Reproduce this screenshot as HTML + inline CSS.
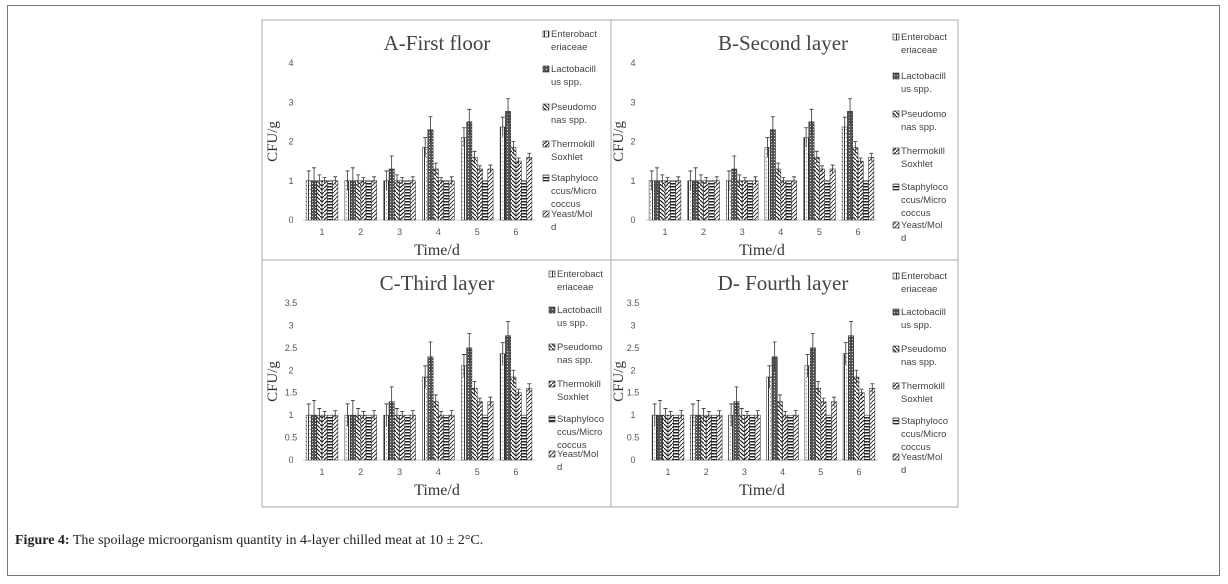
<!DOCTYPE html>
<html><head><meta charset="utf-8"><style>
body{margin:0;background:#fff;width:1228px;height:584px;overflow:hidden;font-family:"Liberation Serif",serif}
#frame{position:absolute;left:7px;top:5px;width:1213px;height:571px;border:1px solid #777;box-sizing:border-box}
#cap{position:absolute;left:15px;top:533px;font-size:14px;color:#222}
</style></head><body>
<div id="frame"></div>
<svg id="fig" width="1228" height="584" style="position:absolute;left:0;top:0">
<defs>
<pattern id="p0" width="4" height="4" patternUnits="userSpaceOnUse"><rect width="4" height="4" fill="#fff"/><rect x="0" width="1" height="4" fill="#333"/><rect x="2" y="1" width="1" height="1" fill="#777"/></pattern>
<pattern id="p1" width="3" height="3" patternUnits="userSpaceOnUse"><rect width="3" height="3" fill="#555"/><rect width="1" height="1" fill="#ddd"/></pattern>
<pattern id="p2" width="4" height="4" patternUnits="userSpaceOnUse"><rect width="4" height="4" fill="#fff"/><path d="M0,0L4,4" stroke="#222" stroke-width="1.2"/></pattern>
<pattern id="p3" width="4" height="4" patternUnits="userSpaceOnUse"><rect width="4" height="4" fill="#fff"/><path d="M0,4L4,0" stroke="#222" stroke-width="1.2"/></pattern>
<pattern id="p4" width="4" height="3" patternUnits="userSpaceOnUse"><rect width="4" height="3" fill="#fff"/><rect y="0" width="4" height="1.5" fill="#222"/></pattern>
<pattern id="p5" width="4" height="4" patternUnits="userSpaceOnUse"><rect width="4" height="4" fill="#fff"/><path d="M0,2L2,0M2,4L4,2" stroke="#333"/></pattern>
</defs>
<g id="panels"></g>
<rect x="262" y="20" width="696" height="487" fill="none" stroke="#aaa"/>
<line x1="611" y1="20" x2="611" y2="507" stroke="#aaa"/>
<line x1="262" y1="260" x2="958" y2="260" stroke="#aaa"/>
</svg>
<div id="cap"><b>Figure 4:</b> The spoilage microorganism quantity in 4-layer chilled meat at 10 ± 2°C.</div>
<script>
const days = ["1","2","3","4","5","6"];
const seriesNames = [["Enterobact","eriaceae"],["Lactobacill","us spp."],["Pseudomo","nas spp."],["Thermokill","Soxhlet"],["Staphyloco","ccus/Micro","coccus"],["Yeast/Mol","d"]];
const enterobacteriaceae = [1,1,1,1.85,2.1,2.37];
const lactobacillus = [1,1,1.3,2.3,2.5,2.77];
const pseudomonas = [1,1,1,1.3,1.6,1.85];
const thermokill = [1,1,1,1,1.3,1.5];
const staphylococcus = [1,1,1,1,1,1];
const yeastMold = [1,1,1,1,1.3,1.6];
const errEntero = [0.25,0.25,0.25,0.25,0.25,0.25];
const errLacto = [0.33,0.33,0.33,0.33,0.32,0.32];
const errPseudo = [0.15,0.15,0.15,0.15,0.15,0.15];
const errThermo = [0.08,0.08,0.08,0.08,0.08,0.08];
const errStaph = [0,0,0,0,0,0];
const errYeast = [0.1,0.1,0.1,0.1,0.1,0.1];
const ticksAB = ["0","1","2","3","4"];
const ticksCD = ["0","0.5","1","1.5","2","2.5","3","3.5"];
const titles = ["A-First floor","B-Second layer","C-Third layer","D- Fourth layer"];

const vals=[enterobacteriaceae,lactobacillus,pseudomonas,thermokill,staphylococcus,yeastMold];
const errs=[errEntero,errLacto,errPseudo,errThermo,errStaph,errYeast];
const NS="http://www.w3.org/2000/svg";
const root=document.getElementById('panels');
function mk(tag,at,parent,txt){const e=document.createElementNS(NS,tag);for(const k in at)e.setAttribute(k,at[k]);if(txt!==undefined)e.textContent=txt;(parent||root).appendChild(e);return e;}
const cfg=[
 {ox:262,oy:20,ticks:ticksAB,max:4,y0:220,ytop:63,x1:322,x6:516,tx:291,ax:272,title:437,lx:543,ly:[37,72,110,147,181,217],tl:437},
 {ox:611,oy:20,ticks:ticksAB,max:4,y0:220,ytop:63,x1:665,x6:858,tx:633,ax:618,title:783,lx:893,ly:[40,79,117,154,190,228],tl:762},
 {ox:262,oy:260,ticks:ticksCD,max:3.5,y0:460,ytop:303,x1:322,x6:516,tx:291,ax:272,title:437,lx:549,ly:[277,313,350,387,422,457],tl:437},
 {ox:611,oy:260,ticks:ticksCD,max:3.5,y0:460,ytop:303,x1:668,x6:859,tx:633,ax:618,title:783,lx:893,ly:[279,315,352,389,424,460],tl:762}
];
cfg.forEach((c,pi)=>{
 const g=mk('g',{});
 
 
 const y=v=>c.y0-(v/c.max)*(c.y0-c.ytop);
 const step=(c.x6-c.x1)/(days.length-1);
 const x=i=>c.x1+i*step;
 const t=mk('text',{x:c.title,y:c.oy+30,'font-size':21,'text-anchor':'middle',fill:'#444'},g,titles[pi]);
 
 
 c.ticks.forEach(s=>{const tk=mk('text',{x:c.tx,y:y(+s)+3,'font-size':9,'text-anchor':'middle',fill:'#555','font-family':'Liberation Sans, sans-serif'},g,s);
  
  });
 mk('line',{x1:x(0)-step/2,x2:x(5)+step/2,y1:c.y0,y2:c.y0,stroke:'#ccc'},g);
 days.forEach((d,i)=>{const tk=mk('text',{x:x(i),y:c.y0+15,'font-size':9,'text-anchor':'middle',fill:'#555','font-family':'Liberation Sans, sans-serif'},g,d);
  
  });
 const at=mk('text',{x:0,y:0,'font-size':15,'text-anchor':'middle',fill:'#333',transform:`translate(${c.ax+5},${(c.y0+c.ytop)/2}) rotate(-90)`},g,'CFU/g');
 
 
 const xt=mk('text',{x:c.tl,y:c.oy+235,'font-size':16,'text-anchor':'middle',fill:'#333'},g,'Time/d');
 
 
 const bw=5.3;
 vals.forEach((arr,si)=>{
  arr.forEach((v,i)=>{
   const bx=x(i)-3*bw+si*bw;
   const r=mk('rect',{x:bx,y:y(v),width:bw,height:c.y0-y(v),fill:`url(#p${si})`,stroke:'#222','stroke-width':0.5},g);
   
   
   const e=errs[si][i];
   if(e>0){const cx=bx+bw/2;
    mk('path',{d:`M${cx},${y(v-e)}V${y(v+e)}M${cx-2},${y(v+e)}H${cx+2}`,stroke:'#333','stroke-width':0.8,fill:'none'},g);}
  });
  const ly=c.ly[si];
  const sw=mk('rect',{x:c.lx,y:ly-6,width:6,height:6,fill:`url(#p${si})`,stroke:'#222','stroke-width':0.6},g);
  
  
  seriesNames[si].forEach((ln,k)=>{const lt=mk('text',{x:c.lx+8,y:ly+k*13,'font-size':9.5,fill:'#444','font-family':'Liberation Sans, sans-serif'},g,ln);
   
   });
 });
});
</script>
</body></html>
